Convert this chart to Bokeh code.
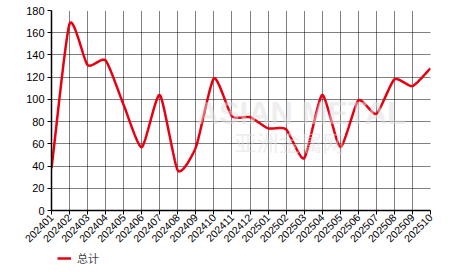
import numpy as np
from math import pi
from bokeh.plotting import figure
from bokeh.layouts import column
from bokeh.models import Legend, LegendItem, Label, FixedTicker, Range1d
from bokeh.embed import file_html
from bokeh.resources import INLINE

months = ["202401", "202402", "202403", "202404", "202405", "202406", "202407",
          "202408", "202409", "202410", "202411", "202412", "202501", "202502",
          "202503", "202504", "202505", "202506", "202507", "202508", "202509", "202510"]
totals = [38, 168, 131, 135, 95, 57, 104, 36, 57, 119, 85, 84, 74, 73, 47, 104, 57, 99, 87, 118, 112, 128]
y_ticks = [0, 20, 40, 60, 80, 100, 120, 140, 160, 180]
series_name = "总计"
line_color = "#e60012"


def smooth(xs, ys, n=24, k=0.3):
    """Cardinal spline through the points, for drawing only."""
    xs = np.asarray(xs, float)
    ys = np.asarray(ys, float)
    m = len(xs)
    tx = np.zeros(m)
    ty = np.zeros(m)
    for i in range(m):
        a = max(i - 1, 0)
        b = min(i + 1, m - 1)
        tx[i] = k * (xs[b] - xs[a]) * (2 if (a == i or b == i) else 1)
        ty[i] = k * (ys[b] - ys[a]) * (2 if (a == i or b == i) else 1)
    ox, oy = [], []
    t = np.linspace(0, 1, n, endpoint=False)
    h00 = 2 * t ** 3 - 3 * t ** 2 + 1
    h10 = t ** 3 - 2 * t ** 2 + t
    h01 = -2 * t ** 3 + 3 * t ** 2
    h11 = t ** 3 - t ** 2
    for i in range(m - 1):
        ox.extend(h00 * xs[i] + h10 * tx[i] + h01 * xs[i + 1] + h11 * tx[i + 1])
        oy.extend(h00 * ys[i] + h10 * ty[i] + h01 * ys[i + 1] + h11 * ty[i + 1])
    ox.append(xs[-1])
    oy.append(ys[-1])
    return ox, oy


idx = list(range(len(months)))
sx, sy = smooth(idx, totals)

p = figure(width=466, height=250, output_backend="svg", toolbar_location=None,
           x_range=Range1d(0, len(months) - 1), y_range=Range1d(0, 180),
           min_border_left=51, min_border_right=36, min_border_top=10, min_border_bottom=40)
p.outline_line_color = None
p.background_fill_color = "white"
p.border_fill_color = "white"

# watermark
p.add_layout(Label(x=145, y=80, x_units="screen", y_units="screen", text="ASIAN METAL",
                   text_font="Liberation Sans", text_font_size="31px", text_font_style="bold",
                   text_color="#dddddd", text_alpha=0.5))
p.add_layout(Label(x=183, y=54, x_units="screen", y_units="screen", text="亚洲金属网",
                   text_font="Noto Sans CJK SC", text_font_size="22px",
                   text_color="#dddddd", text_alpha=0.5))

r = p.line(sx, sy, line_color=line_color, line_width=2.5)

ticker_x = FixedTicker(ticks=idx)
ticker_y = FixedTicker(ticks=y_ticks)
p.xaxis.ticker = ticker_x
p.yaxis.ticker = ticker_y
p.xaxis.major_label_overrides = {i: m for i, m in enumerate(months)}
p.xaxis.major_label_orientation = pi / 4
for ax in (p.xaxis[0], p.yaxis[0]):
    ax.axis_line_color = "black"
    ax.axis_line_width = 1.5
    ax.major_tick_line_color = "black"
    ax.major_tick_out = 4
    ax.major_tick_in = 0
    ax.minor_tick_line_color = None
    ax.major_label_text_font = "Liberation Sans"
    ax.major_label_text_color = "black"
p.xaxis.major_label_text_font_size = "10.5px"
p.yaxis.major_label_text_font_size = "11px"
p.xaxis.major_label_standoff = 1
p.yaxis.major_label_standoff = 3

for g in (p.xgrid[0], p.ygrid[0]):
    g.grid_line_color = "black"
    g.grid_line_dash = "1 1"
    g.grid_line_width = 1
    g.grid_line_alpha = 1.0
p.xgrid.ticker = ticker_x
p.ygrid.ticker = ticker_y

# legend strip below the chart (its frame is aligned with the chart frame)
q = figure(width=466, height=22, output_backend="svg", toolbar_location=None,
           x_range=Range1d(0, 1), y_range=Range1d(0, 1), x_axis_type=None, y_axis_type=None,
           min_border_left=51, min_border_right=36, min_border_top=0, min_border_bottom=0)
q.outline_line_color = None
q.xgrid.visible = False
q.ygrid.visible = False
q.border_fill_color = "white"
rl = q.line([-5, -4], [-5, -5], line_color=line_color, line_width=2.5)
legend = Legend(items=[LegendItem(label=series_name, renderers=[rl])], location=(6, 6),
                orientation="horizontal", border_line_color=None, background_fill_alpha=0,
                label_text_font="Noto Sans CJK SC", label_text_font_size="11px",
                label_height=12, glyph_width=14, glyph_height=10,
                padding=0, margin=0, label_standoff=6)
q.add_layout(legend, "center")

layout = column(p, q, spacing=0)
open("out.html", "w").write(file_html(layout, INLINE))
